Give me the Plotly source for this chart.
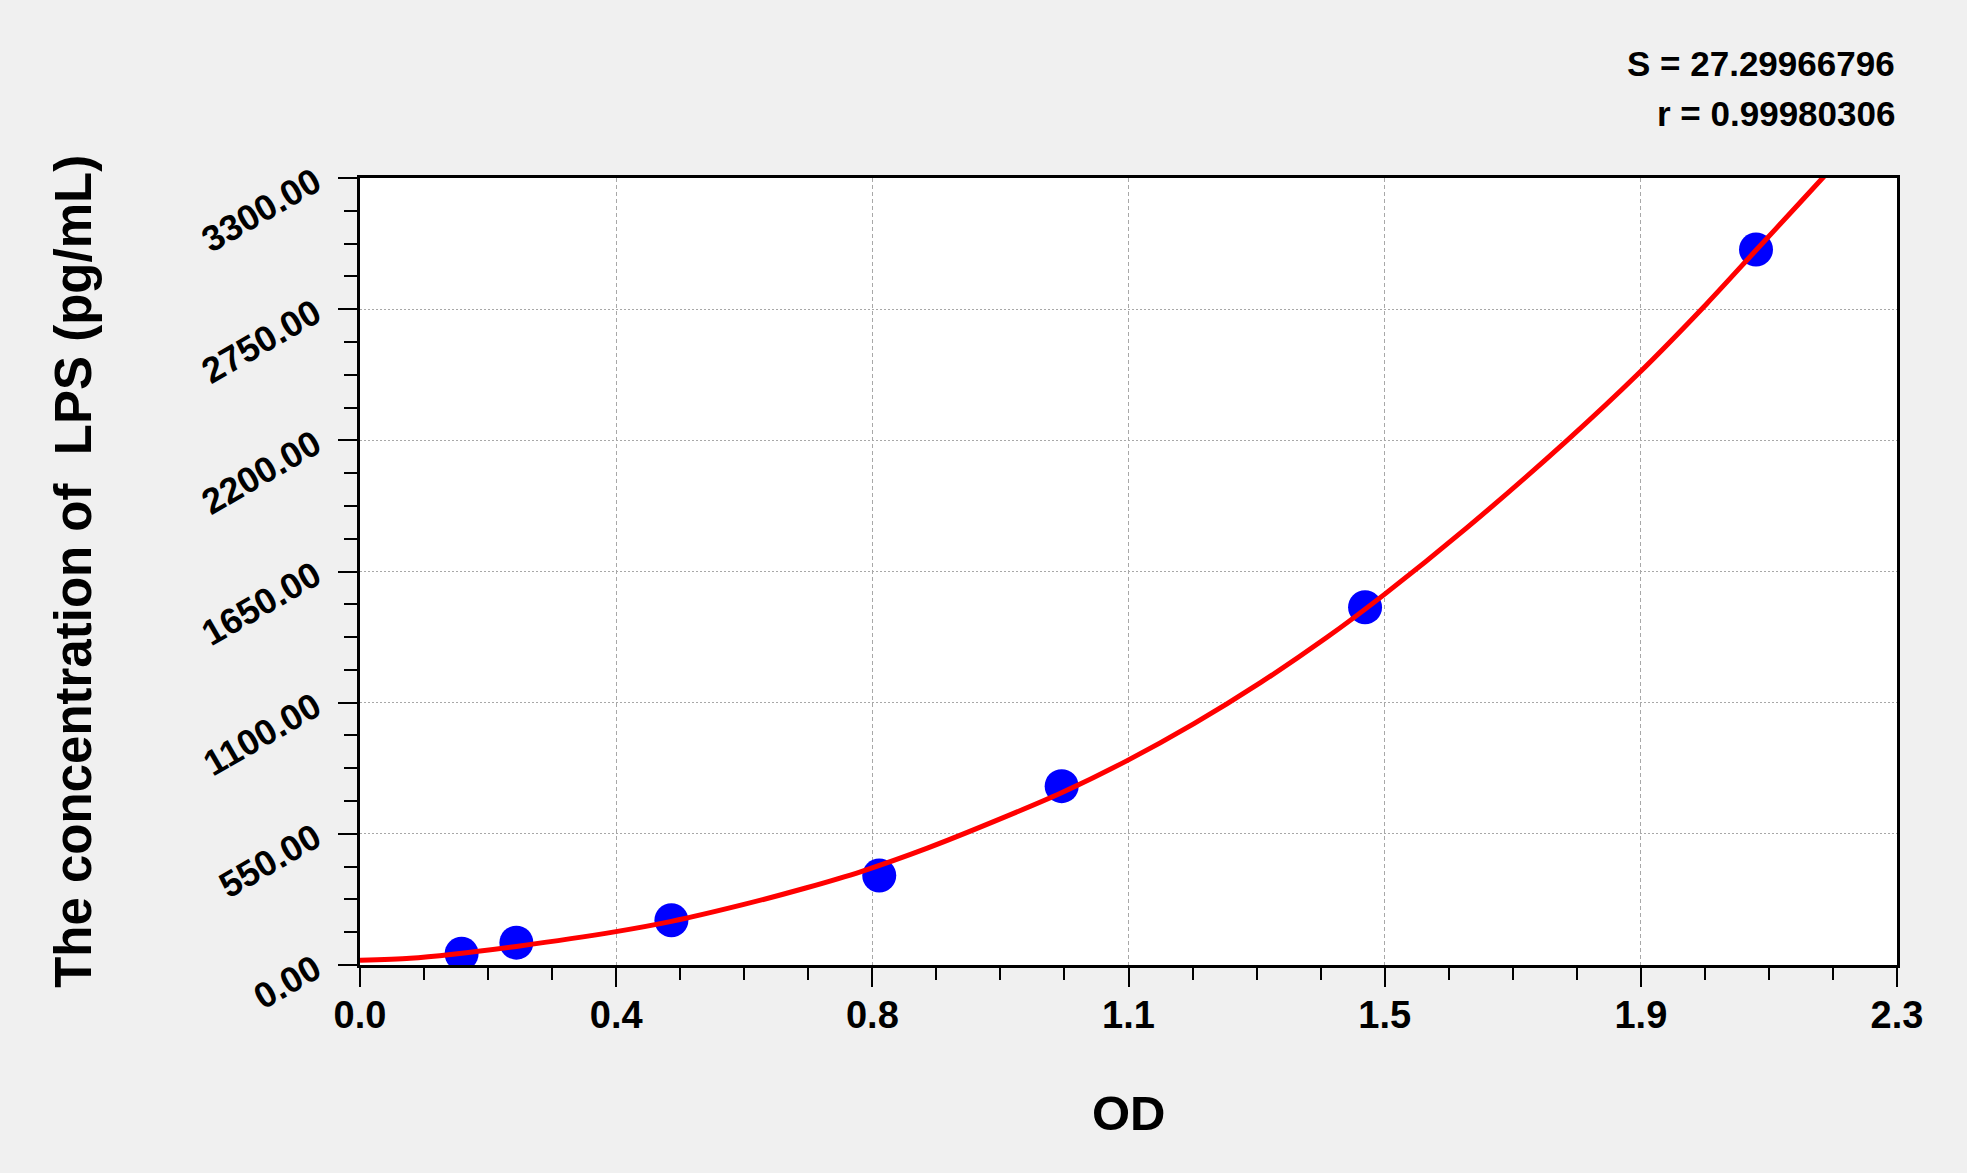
import plotly.graph_objects as go

# standard points (OD vs concentration)
od = [0.152, 0.234, 0.466, 0.777, 1.050, 1.504, 2.089]
conc = [46.88, 93.75, 187.5, 375.0, 750.0, 1500.0, 3000.0]

# fitted curve
curve_od = [0.0, 0.075, 0.139, 0.234, 0.383, 0.466, 0.573, 0.667, 0.750, 0.849,
            0.949, 1.049, 1.148, 1.248, 1.348, 1.447, 1.532, 1.657, 1.806, 1.912,
            2.015, 2.089, 2.155, 2.191]
curve_conc = [20, 28, 45, 78, 140, 183, 253, 323, 392, 490,
              602, 721, 857, 1012, 1185, 1374, 1552, 1835, 2199, 2477,
              2772, 2997, 3197, 3307]

# axis ticks
x_tick_vals = [0.0, 0.38333, 0.76667, 1.15, 1.53333, 1.91667, 2.3]
x_tick_text = ['0.0', '0.4', '0.8', '1.1', '1.5', '1.9', '2.3']
y_tick_vals = [0, 550, 1100, 1650, 2200, 2750, 3300]
y_tick_text = ['0.00', '550.00', '1100.00', '1650.00', '2200.00', '2750.00', '3300.00']

fit_s = 'S = 27.29966796'
fit_r = 'r = 0.99980306'

FONT = 'Liberation Sans, Arial, sans-serif'

points = go.Scatter(
    x=od, y=conc,
    mode='markers',
    marker=dict(color='#0000ff', size=34, line=dict(width=0)),
    showlegend=False,
)
curve = go.Scatter(
    x=curve_od, y=curve_conc,
    mode='lines',
    line=dict(color='#ff0000', width=5, shape='spline', smoothing=0.8),
    showlegend=False,
)

axis_common = dict(
    showline=True,
    linecolor='black',
    linewidth=3,
    mirror=True,
    ticks='outside',
    tickcolor='black',
    tickwidth=2,
    ticklen=19,
    zeroline=False,
    showgrid=True,
    gridcolor='#a8a8a8',
    gridwidth=1,
)

layout = go.Layout(
    width=1967,
    height=1173,
    autosize=False,
    margin=dict(l=360, r=70, t=178, b=208, pad=0),
    paper_bgcolor='#f0f0f0',
    plot_bgcolor='white',
    font=dict(family=FONT, color='black'),
    xaxis=dict(
        axis_common,
        range=[0, 2.3],
        tickmode='array',
        tickvals=x_tick_vals,
        ticktext=x_tick_text,
        tickangle=0,
        tickfont=dict(family=FONT, size=38, color='black', weight=700),
        griddash='4px,3px',
        ticklabelstandoff=-5,
        minor=dict(tickmode='linear', tick0=0, dtick=2.3 / 24, ticklen=12,
                   tickwidth=2, tickcolor='black', ticks='outside', showgrid=False),
    ),
    yaxis=dict(
        axis_common,
        range=[0, 3300],
        tickmode='array',
        tickvals=y_tick_vals,
        ticktext=y_tick_text,
        tickangle=-30,
        tickfont=dict(family=FONT, size=36, color='black', weight=700),
        griddash='2px,2px',
        ticklabelstandoff=16,
        minor=dict(tickmode='linear', tick0=0, dtick=137.5, ticklen=13,
                   tickwidth=2, tickcolor='black', ticks='outside', showgrid=False),
    ),
    annotations=[
        dict(text='The concentration of  LPS (pg/mL)', xref='paper', yref='paper',
             x=-0.1865, y=0.5, xanchor='center', yanchor='middle', textangle=-90,
             showarrow=False, font=dict(family=FONT, size=51, weight=700)),
        dict(text='OD', xref='paper', yref='paper',
             x=0.5, y=-0.188, xanchor='center', yanchor='middle',
             showarrow=False, font=dict(family=FONT, size=49, weight=700)),
        dict(text=fit_s, xref='paper', yref='paper',
             x=1.0, y=1.1449, xanchor='right', yanchor='middle',
             showarrow=False, font=dict(family=FONT, size=35, weight=700)),
        dict(text=fit_r, xref='paper', yref='paper',
             x=1.0, y=1.082, xanchor='right', yanchor='middle',
             showarrow=False, font=dict(family=FONT, size=35, weight=700)),
    ],
)

fig = go.Figure(data=[points, curve], layout=layout)
fig.write_html('out.html',
               config={'displayModeBar': False},
               post_script="document.body.style.margin='0';"
                           "document.body.style.background='#f0f0f0';")
